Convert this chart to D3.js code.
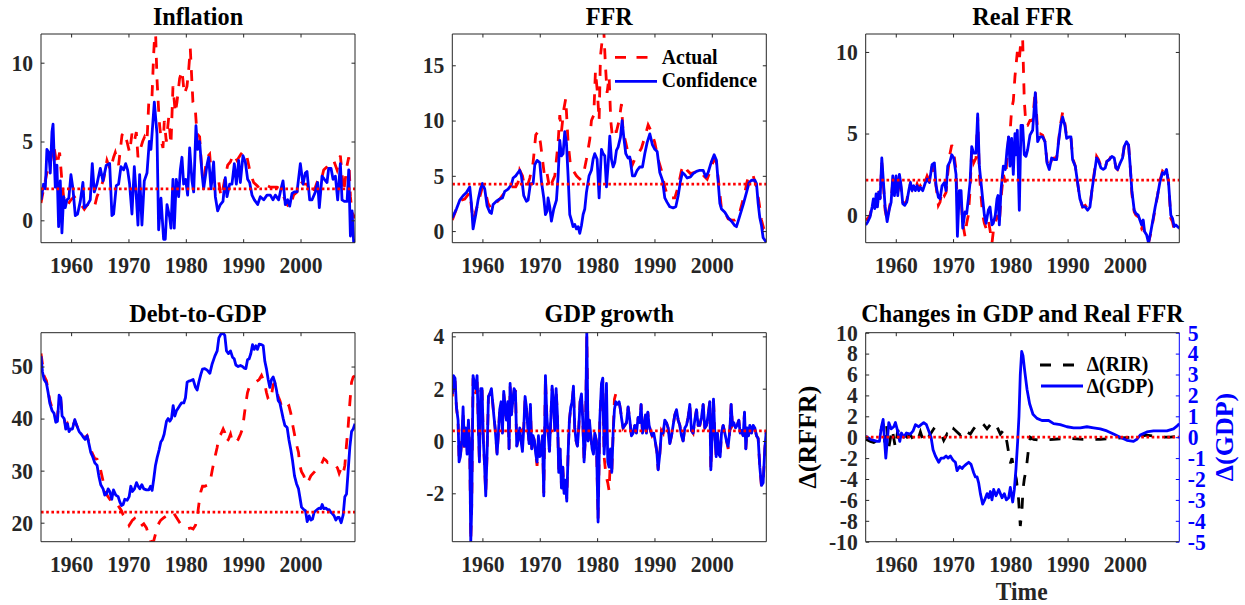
<!DOCTYPE html>
<html>
<head>
<meta charset="utf-8">
<script src="https://cdn.jsdelivr.net/npm/d3@7"></script>
<style>
  body { margin: 0; background: #fff; }
  svg { display: block; }
  text { font-family: "Liberation Serif", "Times New Roman", serif; font-weight: bold; }
</style>
</head>
<body>
<svg id="chart" width="1245" height="605"></svg>
<script>
// ---------------- data: [year, value] ----------------
const yearTicks = [1960, 1970, 1980, 1990, 2000];

const inflationConf = [[1954.75,1.3],[1955.2,2.3],[1955.5,2.0],[1955.78,4.5],[1956.1,4.3],[1956.37,3.0],[1956.66,5.6],[1956.85,6.1],[1957.0,4.5],[1957.24,2.1],[1957.53,3.5],[1957.82,-0.4],[1958.11,2.5],[1958.4,-0.8],[1958.69,1.5],[1958.98,0.8],[1959.27,1.3],[1959.6,1.4],[1959.97,2.9],[1960.32,2.0],[1960.73,0.3],[1961.13,0.4],[1961.6,1.2],[1962.06,2.4],[1962.3,0.8],[1962.88,1.0],[1963.34,1.3],[1963.69,3.6],[1964.04,1.8],[1964.51,2.3],[1965.09,3.3],[1965.55,2.5],[1966.13,3.5],[1966.72,3.6],[1967.12,0.3],[1967.41,0.4],[1967.88,2.2],[1968.28,2.3],[1968.69,3.4],[1969.16,3.2],[1969.51,3.6],[1969.85,3.2],[1970.2,2.3],[1970.61,0.4],[1971.02,3.4],[1971.37,1.5],[1971.66,-0.3],[1971.95,2.9],[1972.35,-0.3],[1972.76,2.5],[1973.23,3.0],[1973.63,5.0],[1973.92,4.5],[1974.51,7.5],[1974.97,5.5],[1975.26,-0.6],[1975.67,1.4],[1976.13,-1.2],[1976.42,-1.2],[1976.72,1.0],[1977.18,0.2],[1977.41,-0.5],[1977.76,2.6],[1977.99,-0.5],[1978.34,2.6],[1978.75,1.5],[1979.04,3.2],[1979.33,4.0],[1979.62,2.3],[1979.97,2.6],[1980.32,1.6],[1980.67,4.6],[1981.08,2.5],[1981.37,1.8],[1981.77,6.0],[1982.06,4.5],[1982.41,5.0],[1982.82,3.0],[1983.11,2.0],[1983.69,3.5],[1983.98,4.0],[1984.39,2.0],[1984.85,3.7],[1985.15,1.5],[1985.55,0.6],[1986.02,1.0],[1986.48,1.2],[1986.89,2.7],[1987.18,1.5],[1987.65,2.3],[1988.05,2.3],[1988.46,3.6],[1988.81,2.3],[1989.22,3.8],[1989.51,2.4],[1989.97,4.1],[1990.38,3.7],[1990.78,2.6],[1991.13,2.4],[1991.54,1.6],[1991.95,1.3],[1992.53,1.0],[1992.99,1.5],[1993.58,1.3],[1994.16,1.6],[1994.74,1.6],[1995.2,1.3],[1995.61,1.6],[1996.19,1.3],[1996.6,2.0],[1996.95,2.5],[1997.35,1.0],[1997.76,1.3],[1998.11,0.9],[1998.52,1.7],[1998.92,1.8],[1999.39,1.8],[1999.97,3.6],[2000.44,2.3],[2000.84,3.0],[2001.13,3.1],[2001.6,1.3],[2002.01,1.3],[2002.59,1.8],[2002.99,2.4],[2003.28,0.8],[2003.75,2.8],[2004.16,2.6],[2004.62,2.4],[2004.91,3.3],[2005.32,3.3],[2005.67,2.6],[2006.08,2.8],[2006.48,1.3],[2006.95,3.6],[2007.24,1.3],[2007.65,1.2],[2008.12,1.2],[2008.41,3.2],[2008.7,-1.0],[2008.99,0.6],[2009.28,-1.5],[2009.5,-1.2]];

const inflationActual = [[1954.75,1.1],[1955.2,2.0],[1955.78,3.0],[1956.37,3.6],[1956.95,4.8],[1957.53,3.5],[1958.0,4.3],[1958.4,2.5],[1958.69,1.5],[1959.27,0.9],[1959.97,1.3],[1960.55,1.5],[1961.13,1.2],[1961.72,1.0],[1962.3,0.7],[1962.88,1.0],[1963.63,1.0],[1964.04,0.8],[1964.51,1.5],[1965.09,2.0],[1965.67,2.6],[1966.25,3.8],[1966.83,3.2],[1967.41,4.0],[1967.7,4.3],[1968.28,3.5],[1968.87,5.4],[1969.27,5.6],[1969.74,5.0],[1970.2,4.3],[1970.61,5.5],[1971.02,5.0],[1971.37,5.6],[1971.66,4.0],[1972.06,4.5],[1972.47,5.0],[1972.82,5.3],[1973.23,5.0],[1973.58,7.8],[1974.1,7.8],[1974.39,10.5],[1974.68,12.5],[1974.97,9.0],[1975.26,7.0],[1975.44,6.0],[1975.73,5.0],[1976.02,4.6],[1976.25,6.3],[1976.6,5.0],[1977.01,6.5],[1977.41,4.8],[1977.76,8.5],[1978.17,6.8],[1978.46,7.5],[1978.92,9.0],[1979.33,9.5],[1979.74,8.0],[1980.2,8.5],[1980.49,9.5],[1980.78,10.9],[1981.24,7.5],[1981.66,7.0],[1981.95,5.5],[1982.41,5.3],[1982.82,3.0],[1983.22,2.8],[1983.69,4.0],[1984.16,4.2],[1984.56,2.4],[1985.15,2.7],[1985.73,2.5],[1986.13,1.5],[1986.48,2.0],[1986.89,2.8],[1987.3,3.5],[1987.76,3.7],[1988.34,4.2],[1988.92,3.8],[1989.62,4.2],[1990.09,4.4],[1990.67,4.0],[1991.25,3.0],[1991.83,2.4],[1992.41,2.2],[1992.99,2.0],[1993.58,2.1],[1994.16,2.2],[1994.74,2.1],[1995.32,2.1],[1995.9,2.1],[1996.48,2.0],[1997.06,1.5],[1997.64,1.0],[1998.11,0.8],[1998.8,1.6],[1999.39,1.8],[1999.97,2.5],[2000.55,2.3],[2001.13,2.3],[2001.71,1.7],[2002.3,1.8],[2002.88,2.4],[2003.46,2.3],[2004.04,3.2],[2004.62,3.4],[2005.2,3.7],[2005.78,3.8],[2006.37,3.2],[2006.95,4.1],[2007.53,1.8],[2008.12,3.5],[2008.41,4.0],[2008.7,1.5],[2008.99,0.5],[2009.4,0.2],[2009.5,0.2]];

const ffrConf = [[1954.75,1.2],[1955.47,2.0],[1956.05,2.8],[1956.63,3.2],[1957.21,3.5],[1957.79,4.0],[1958.08,2.5],[1958.37,0.2],[1958.84,1.5],[1959.24,2.8],[1959.65,3.8],[1960.0,4.3],[1960.41,3.8],[1960.81,2.3],[1961.28,1.7],[1961.57,1.6],[1961.86,2.4],[1962.44,2.7],[1963.02,2.9],[1963.49,3.0],[1963.9,3.6],[1964.48,3.8],[1965.06,4.2],[1965.35,4.8],[1965.81,5.0],[1966.22,5.3],[1966.51,5.5],[1966.8,5.0],[1967.21,3.2],[1967.67,2.7],[1967.97,2.8],[1968.37,4.3],[1968.84,4.3],[1969.13,6.0],[1969.53,6.4],[1970.0,6.2],[1970.29,4.5],[1970.7,3.0],[1970.99,1.5],[1971.28,1.8],[1971.45,3.0],[1971.74,2.2],[1972.03,0.9],[1972.44,2.0],[1972.91,2.8],[1973.2,5.0],[1973.49,8.2],[1973.78,6.8],[1974.07,7.0],[1974.36,9.0],[1974.65,8.0],[1974.94,5.0],[1975.23,1.5],[1975.52,1.0],[1975.81,0.4],[1976.1,0.6],[1976.4,0.2],[1976.69,0.4],[1976.98,-0.2],[1977.27,0.5],[1977.56,1.5],[1977.85,2.0],[1978.14,3.5],[1978.6,5.0],[1979.01,5.5],[1979.3,6.5],[1979.59,7.0],[1980.0,6.5],[1980.35,3.0],[1980.76,7.4],[1981.05,7.0],[1981.34,6.8],[1981.63,4.0],[1981.92,6.0],[1982.21,8.6],[1982.5,6.5],[1982.79,5.8],[1983.08,6.2],[1983.37,7.3],[1983.66,7.6],[1984.07,8.5],[1984.36,10.0],[1984.65,8.5],[1985.0,7.0],[1985.41,6.6],[1985.7,6.7],[1986.16,5.0],[1986.57,5.0],[1986.98,5.5],[1987.44,5.8],[1987.91,5.8],[1988.31,7.0],[1988.72,8.0],[1989.19,8.8],[1989.65,7.8],[1990.06,7.4],[1990.47,7.2],[1990.93,5.3],[1991.4,4.6],[1991.8,3.0],[1992.21,2.6],[1992.67,2.2],[1993.26,2.1],[1993.72,2.2],[1994.13,3.2],[1994.53,4.5],[1994.88,5.3],[1995.29,5.1],[1995.7,4.8],[1996.28,4.9],[1996.74,5.2],[1997.33,5.4],[1997.91,5.5],[1998.49,5.5],[1998.95,4.9],[1999.36,5.3],[1999.94,6.3],[2000.41,6.9],[2000.81,6.4],[2001.1,4.5],[2001.4,2.5],[2001.69,2.0],[2002.27,1.7],[2002.85,1.2],[2003.43,0.9],[2004.01,0.5],[2004.3,0.4],[2004.77,1.2],[2005.47,2.4],[2006.05,3.5],[2006.51,4.4],[2006.92,4.6],[2007.5,4.6],[2007.79,4.3],[2008.08,2.5],[2008.37,1.2],[2008.66,0.5],[2008.95,-0.6],[2009.5,-1.0]];

const ffrActual = [[1954.75,1.0],[1955.47,2.0],[1956.34,2.8],[1956.92,2.9],[1957.5,3.3],[1957.79,3.5],[1958.37,1.0],[1958.84,1.8],[1959.24,2.5],[1960.0,4.0],[1960.41,3.8],[1960.99,2.5],[1961.57,2.0],[1962.15,2.4],[1963.02,2.9],[1963.6,3.3],[1964.48,3.8],[1965.06,4.0],[1965.81,4.0],[1966.22,4.4],[1966.51,5.5],[1966.98,5.0],[1967.38,4.0],[1967.79,4.0],[1968.26,4.8],[1968.84,6.2],[1969.3,8.7],[1969.71,9.0],[1970.12,8.0],[1970.47,6.5],[1970.87,4.8],[1971.28,5.2],[1971.74,3.8],[1972.21,4.5],[1972.62,5.0],[1973.2,8.0],[1973.49,10.5],[1973.78,9.0],[1974.19,11.0],[1974.53,12.0],[1974.94,8.0],[1975.35,6.0],[1975.81,5.5],[1976.4,5.0],[1976.98,4.7],[1977.56,5.0],[1978.14,6.5],[1978.72,8.3],[1979.01,10.0],[1979.42,10.5],[1979.71,14.5],[1980.06,12.5],[1980.35,10.0],[1980.58,15.8],[1980.93,17.5],[1981.16,18.2],[1981.45,15.0],[1981.74,12.5],[1982.09,14.0],[1982.38,10.0],[1982.67,8.5],[1982.91,9.0],[1983.37,9.0],[1983.84,10.0],[1984.24,11.5],[1984.53,9.0],[1985.0,8.0],[1985.41,7.0],[1985.81,6.5],[1986.16,6.0],[1986.57,6.5],[1987.15,7.0],[1987.73,7.5],[1988.31,8.5],[1988.9,9.6],[1989.48,9.0],[1990.06,8.0],[1990.64,6.5],[1991.22,5.5],[1991.8,4.0],[1992.38,3.0],[1992.97,3.0],[1993.55,3.0],[1994.13,4.0],[1994.71,5.5],[1995.12,6.0],[1995.7,5.5],[1996.28,5.2],[1996.86,5.3],[1997.44,5.4],[1998.02,5.5],[1998.6,5.0],[1999.19,4.7],[1999.77,5.5],[2000.35,6.5],[2000.81,6.2],[2001.28,4.0],[2001.69,2.0],[2002.27,1.7],[2002.85,1.1],[2003.43,1.0],[2004.01,1.0],[2004.59,1.2],[2005.17,2.3],[2005.76,3.5],[2006.16,4.5],[2006.63,5.2],[2007.21,5.0],[2007.79,4.0],[2008.26,2.5],[2008.66,1.0],[2009.07,0.2],[2009.5,0.2]];

const realFfrConf = [[1954.75,-0.6],[1955.12,-0.4],[1955.52,-0.1],[1955.87,0.5],[1956.1,1.0],[1956.34,0.4],[1956.57,1.3],[1956.8,0.5],[1957.03,1.4],[1957.27,1.0],[1957.56,3.5],[1957.85,2.0],[1958.14,0.5],[1958.49,-0.4],[1958.9,0.4],[1959.19,0.8],[1959.48,2.4],[1959.77,1.2],[1960.06,2.4],[1960.35,1.2],[1960.64,2.5],[1960.93,1.8],[1961.22,0.7],[1961.57,0.6],[1961.92,0.8],[1962.27,1.5],[1962.56,2.0],[1962.85,1.5],[1963.14,1.8],[1963.43,1.5],[1963.72,1.8],[1964.01,1.5],[1964.3,1.7],[1964.71,1.5],[1965.17,2.0],[1965.47,2.2],[1965.87,2.0],[1966.34,3.1],[1966.74,3.2],[1967.03,1.8],[1967.44,1.1],[1967.73,1.0],[1968.08,1.8],[1968.49,2.0],[1968.78,1.5],[1969.07,3.0],[1969.48,3.3],[1969.77,3.7],[1970.12,3.5],[1970.52,2.5],[1970.76,-1.3],[1971.1,1.5],[1971.4,1.5],[1971.69,-0.8],[1972.09,0.2],[1972.38,0.1],[1972.67,1.0],[1972.97,2.0],[1973.26,4.2],[1973.6,3.8],[1974.01,3.8],[1974.3,6.2],[1974.59,3.0],[1974.88,2.0],[1975.17,1.0],[1975.47,0.0],[1975.76,-0.5],[1976.16,0.3],[1976.45,0.5],[1976.8,-0.6],[1977.03,-0.5],[1977.38,0.0],[1977.67,1.0],[1977.85,1.2],[1978.08,-0.6],[1978.37,1.5],[1978.78,3.0],[1979.13,2.8],[1979.42,4.0],[1979.71,4.8],[1979.94,3.0],[1980.23,4.7],[1980.52,2.5],[1980.81,5.0],[1980.99,3.7],[1981.22,5.2],[1981.57,0.3],[1981.86,5.5],[1982.15,5.5],[1982.44,3.7],[1982.73,3.6],[1983.02,4.0],[1983.43,4.9],[1983.9,5.2],[1984.36,7.5],[1984.77,4.5],[1985.17,4.8],[1985.64,4.8],[1986.05,4.5],[1986.4,3.2],[1986.8,2.8],[1987.21,3.5],[1987.67,3.4],[1988.08,3.4],[1988.43,4.5],[1988.78,5.5],[1989.13,6.0],[1989.53,5.5],[1989.83,4.7],[1990.29,4.8],[1990.58,4.8],[1990.87,3.4],[1991.34,3.0],[1991.74,2.0],[1992.15,1.0],[1992.62,0.5],[1993.08,0.5],[1993.49,0.3],[1993.9,0.5],[1994.24,1.5],[1994.65,2.5],[1995.06,3.5],[1995.41,3.3],[1995.81,2.9],[1996.22,2.8],[1996.57,2.9],[1996.86,3.3],[1997.27,3.4],[1997.73,3.6],[1998.14,3.5],[1998.43,2.9],[1998.72,2.8],[1999.19,3.2],[1999.59,3.5],[1999.88,4.2],[2000.29,4.5],[2000.64,4.3],[2000.93,3.0],[2001.22,1.5],[2001.63,0.3],[2001.92,0.1],[2002.33,0.0],[2002.62,-0.3],[2002.91,-0.6],[2003.2,-0.3],[2003.43,-1.0],[2003.78,-1.2],[2004.13,-1.7],[2004.53,-1.0],[2004.94,-0.2],[2005.29,0.5],[2005.7,1.2],[2006.1,2.0],[2006.57,2.6],[2006.86,2.5],[2007.27,2.8],[2007.62,2.0],[2008.02,0.0],[2008.31,-0.2],[2008.6,-0.7],[2008.9,-0.6],[2009.5,-0.8]];

const realFfrActual = [[1954.75,-0.3],[1955.12,-0.2],[1955.52,0.0],[1955.87,0.6],[1956.1,0.9],[1956.34,0.5],[1956.57,1.2],[1956.8,0.6],[1957.03,1.5],[1957.27,1.0],[1957.56,3.2],[1957.85,1.8],[1958.14,0.3],[1958.49,-0.3],[1958.9,0.5],[1959.19,1.0],[1959.48,2.0],[1959.77,1.4],[1960.06,2.2],[1960.35,1.4],[1960.64,2.3],[1960.93,1.6],[1961.22,0.8],[1961.57,0.7],[1961.92,0.9],[1962.27,1.6],[1962.56,1.9],[1962.85,1.6],[1963.14,1.9],[1963.43,1.6],[1963.72,1.9],[1964.01,1.6],[1964.3,1.8],[1964.71,1.6],[1965.17,2.1],[1965.47,2.4],[1965.87,2.1],[1966.34,3.0],[1966.74,2.5],[1967.03,1.8],[1967.44,0.6],[1967.73,0.8],[1968.08,1.5],[1968.49,1.2],[1968.78,1.4],[1969.07,2.5],[1969.48,3.8],[1969.77,4.3],[1970.12,3.8],[1970.52,2.8],[1970.76,0.5],[1971.1,0.8],[1971.4,1.0],[1971.69,-0.5],[1972.09,-1.3],[1972.38,-0.5],[1972.67,0.0],[1972.97,1.5],[1973.26,4.0],[1973.6,3.2],[1974.01,3.5],[1974.3,6.0],[1974.59,2.5],[1974.88,1.2],[1975.17,0.0],[1975.47,-0.5],[1975.76,-0.8],[1976.16,-0.3],[1976.45,-0.9],[1976.8,-1.7],[1977.03,-1.0],[1977.38,-0.5],[1977.67,0.0],[1978.08,-0.5],[1978.37,1.0],[1978.78,2.5],[1979.13,2.0],[1979.42,3.5],[1979.71,4.8],[1979.94,5.0],[1980.23,6.5],[1980.52,7.0],[1980.81,8.5],[1981.22,10.0],[1981.57,9.5],[1981.86,10.8],[1982.15,10.8],[1982.44,7.0],[1982.73,5.5],[1983.02,5.5],[1983.43,5.8],[1983.9,5.8],[1984.36,7.7],[1984.77,5.0],[1985.17,5.0],[1985.64,4.9],[1986.05,4.5],[1986.4,3.3],[1986.8,2.9],[1987.21,3.4],[1987.67,3.5],[1988.08,3.5],[1988.43,4.6],[1988.78,5.6],[1989.13,6.3],[1989.53,5.6],[1989.83,4.8],[1990.29,4.9],[1990.58,4.8],[1990.87,3.5],[1991.34,3.0],[1991.74,2.0],[1992.15,1.0],[1992.62,0.5],[1993.08,0.6],[1993.49,0.4],[1993.9,0.5],[1994.24,1.5],[1994.65,2.6],[1995.06,3.6],[1995.41,3.4],[1995.81,3.0],[1996.22,2.8],[1996.57,2.9],[1996.86,3.3],[1997.27,3.4],[1997.73,3.7],[1998.14,3.5],[1998.43,2.9],[1998.72,2.8],[1999.19,3.2],[1999.59,3.5],[1999.88,4.2],[2000.29,4.6],[2000.64,4.3],[2000.93,3.0],[2001.22,1.3],[2001.63,0.2],[2001.92,0.0],[2002.33,-0.1],[2002.62,-0.5],[2002.91,-0.8],[2003.2,-0.6],[2003.43,-1.2],[2003.78,-1.4],[2004.13,-1.7],[2004.53,-1.1],[2004.94,-0.3],[2005.29,0.4],[2005.7,1.2],[2006.1,2.1],[2006.57,2.7],[2006.86,2.6],[2007.27,2.8],[2007.62,2.0],[2008.02,-0.2],[2008.31,-0.4],[2008.6,-0.9],[2008.9,-1.1],[2009.5,-0.9]];

const debtConf = [[1954.75,52],[1955.0,49],[1955.29,47.5],[1955.7,46.8],[1955.99,45],[1956.28,43],[1956.69,41.5],[1957.03,41],[1957.33,39.3],[1957.62,39.5],[1957.91,44.5],[1958.2,44],[1958.43,40.5],[1958.78,40],[1959.07,38],[1959.36,39],[1959.65,37.5],[1959.94,38],[1960.23,38],[1960.64,39.8],[1961.05,38.5],[1961.4,37.5],[1961.8,37],[1962.09,36.5],[1962.44,36],[1962.79,36.7],[1963.14,35],[1963.43,33.5],[1963.72,32.8],[1964.13,31.5],[1964.53,31],[1964.83,29],[1965.17,27.3],[1965.58,26.5],[1965.87,25.3],[1966.16,25.5],[1966.45,26.5],[1966.74,26],[1967.09,24.5],[1967.38,26.3],[1967.79,25.3],[1968.2,25],[1968.49,24],[1968.78,23.3],[1969.07,23.5],[1969.36,24.5],[1969.77,24.3],[1970.12,25],[1970.41,27],[1970.7,26],[1971.05,26.5],[1971.4,27.7],[1971.69,27],[1971.98,26.5],[1972.33,27.3],[1972.67,26.5],[1973.14,26.3],[1973.55,26.3],[1973.84,27],[1974.13,26.2],[1974.42,28.5],[1974.71,31],[1975.0,32.5],[1975.35,34],[1975.64,35.5],[1975.93,36],[1976.22,37],[1976.63,39.5],[1976.92,40],[1977.21,39.5],[1977.5,40],[1977.79,42.5],[1978.08,40.5],[1978.37,41.5],[1978.66,42],[1978.95,42.5],[1979.24,43],[1979.65,43],[1979.94,44],[1980.23,47],[1980.52,47.2],[1980.87,47.3],[1981.28,47.5],[1981.69,46],[1981.98,45.5],[1982.27,47],[1982.62,48.5],[1982.91,49.5],[1983.31,49.6],[1983.72,49.3],[1984.19,48.7],[1984.59,50.5],[1985.06,52],[1985.47,53],[1985.76,55.5],[1986.1,56.2],[1986.51,56.4],[1986.8,56],[1987.09,53],[1987.44,52.5],[1987.79,53],[1988.14,51.8],[1988.43,51.5],[1988.72,50.3],[1989.13,50],[1989.53,50.2],[1989.88,50],[1990.17,49.7],[1990.47,49.6],[1990.76,51.3],[1991.05,51.5],[1991.34,52.5],[1991.63,54.2],[1991.92,53.3],[1992.21,54],[1992.5,53.3],[1992.79,54.3],[1993.2,54.2],[1993.49,54],[1993.78,51],[1994.07,49.5],[1994.36,47.5],[1994.65,46],[1994.94,47.5],[1995.23,48],[1995.52,47],[1995.81,45.5],[1996.1,43.5],[1996.4,43],[1996.69,41.5],[1996.98,40],[1997.27,38.7],[1997.67,38.3],[1997.97,36],[1998.31,34],[1998.6,32],[1998.95,29],[1999.3,27.5],[1999.65,26.5],[1999.88,25],[2000.17,23],[2000.58,22.5],[2000.87,22.3],[2001.16,20.2],[2001.51,21.3],[2001.8,20.5],[2002.09,20.7],[2002.38,22],[2002.67,22.3],[2002.97,22.6],[2003.26,22.8],[2003.55,22.7],[2003.78,23.5],[2004.07,22.7],[2004.42,22.8],[2004.71,22.5],[2005.0,22.5],[2005.29,22],[2005.58,21.7],[2005.87,21.3],[2006.16,20.5],[2006.45,21],[2006.74,21],[2007.09,20],[2007.44,21.5],[2007.73,25],[2008.02,25.5],[2008.31,30],[2008.6,34.5],[2008.9,37.5],[2009.19,38],[2009.5,39]];

const debtActual = [[1954.75,52.5],[1955.29,48.2],[1955.7,47.3],[1956.28,43.5],[1956.69,42],[1957.03,41.3],[1957.33,40],[1957.62,40.5],[1957.91,43.5],[1958.2,43.5],[1958.43,41],[1958.78,40.3],[1959.07,38.5],[1959.36,39],[1959.65,38],[1959.94,38.3],[1960.23,38.5],[1960.64,39.5],[1961.05,38.5],[1961.4,37.8],[1961.8,37.3],[1962.09,36.8],[1962.44,36.3],[1962.79,36.7],[1963.14,35.3],[1963.43,34],[1963.72,33.3],[1964.13,32.3],[1964.53,32.2],[1964.83,31.5],[1965.17,30],[1965.58,28],[1965.87,26.5],[1966.16,25.5],[1966.45,25],[1966.74,24.5],[1967.09,24],[1967.38,24.2],[1967.79,23.8],[1968.2,23.3],[1968.49,22.8],[1968.78,22.3],[1969.07,21.5],[1969.36,21],[1969.77,20.5],[1970.12,19.5],[1970.41,20],[1970.7,20.5],[1971.05,20.8],[1971.4,20],[1971.69,19.5],[1971.98,19.2],[1972.33,19.5],[1972.67,19.8],[1973.14,19],[1973.55,17.5],[1973.84,16.5],[1974.13,16.3],[1974.42,16.6],[1974.71,17.8],[1975.0,19],[1975.35,20],[1975.64,20.5],[1976.22,21],[1976.63,21.3],[1977.21,21.5],[1977.79,22],[1978.37,21],[1978.95,20],[1979.24,19.5],[1979.65,19.1],[1980.23,18.8],[1980.87,19],[1981.28,18.8],[1981.69,19.5],[1981.98,21],[1982.27,23.5],[1982.62,26],[1982.91,27],[1983.31,27],[1983.72,27.2],[1984.19,27.5],[1984.59,30],[1985.06,32.5],[1985.47,34.5],[1985.76,36.5],[1986.1,37],[1986.51,38],[1986.8,37.3],[1987.09,35.5],[1987.44,36],[1987.79,37],[1988.14,35.5],[1988.43,35.3],[1988.72,35.5],[1989.13,36],[1989.53,37],[1989.88,38],[1990.17,40.5],[1990.47,43],[1990.76,45],[1991.05,46],[1991.34,46.3],[1991.63,46.5],[1992.21,47],[1992.79,47.5],[1993.2,48.3],[1993.49,47.5],[1993.78,46.5],[1994.07,45],[1994.36,43.8],[1994.65,43.5],[1994.94,44.5],[1995.23,46.5],[1995.52,46.8],[1995.81,45.5],[1996.1,44.3],[1996.4,43.5],[1996.69,42.3],[1996.98,41.8],[1997.27,41.8],[1997.67,42.3],[1997.97,42.5],[1998.31,41],[1998.6,39],[1998.95,37],[1999.3,35],[1999.65,33.5],[1999.88,31],[2000.17,29.8],[2000.58,29],[2000.87,28],[2001.16,27.5],[2001.51,28.3],[2001.8,29],[2002.38,29.7],[2002.97,30.5],[2003.55,31],[2004.07,32.3],[2004.42,32],[2004.71,31.6],[2005.0,31.8],[2005.58,31.5],[2006.16,31],[2006.45,30.5],[2006.74,29.5],[2007.09,30.5],[2007.44,29.5],[2007.73,31],[2008.02,35],[2008.31,38.5],[2008.6,43],[2008.9,47],[2009.19,48],[2009.5,48.2]];

const gdpConf = [[1954.75,1.8],[1954.94,2.5],[1955.23,2.4],[1955.47,1.3],[1955.76,0.8],[1955.93,-0.8],[1956.16,-0.6],[1956.4,0.0],[1956.63,1.3],[1956.86,-0.2],[1957.09,0.5],[1957.33,-0.5],[1957.56,0.8],[1957.79,-0.2],[1957.97,-3.85],[1958.14,-2.5],[1958.37,2.5],[1958.6,2.2],[1958.84,2.0],[1959.07,2.5],[1959.3,0.5],[1959.48,-0.8],[1959.71,2.0],[1959.94,2.0],[1960.17,0.0],[1960.35,-0.8],[1960.58,-2.1],[1960.81,-0.5],[1961.05,1.7],[1961.28,1.8],[1961.57,2.0],[1961.74,1.6],[1961.98,1.0],[1962.21,0.5],[1962.56,-0.5],[1962.79,0.3],[1963.02,1.2],[1963.26,1.5],[1963.49,0.3],[1963.72,1.9],[1963.95,1.3],[1964.19,0.8],[1964.42,1.5],[1964.65,-0.3],[1964.83,2.2],[1965.06,1.0],[1965.29,1.5],[1965.52,2.0],[1965.76,1.9],[1965.99,-0.2],[1966.28,0.1],[1966.51,0.5],[1966.74,0.0],[1966.98,-0.4],[1967.21,0.5],[1967.44,1.7],[1967.67,1.3],[1967.91,0.5],[1968.14,-0.1],[1968.37,1.4],[1968.6,-0.3],[1968.84,0.2],[1969.07,0.0],[1969.3,-0.5],[1969.53,-0.8],[1969.77,0.2],[1970.0,-0.6],[1970.23,-0.5],[1970.47,0.2],[1970.7,-2.1],[1970.99,2.5],[1971.22,1.0],[1971.45,0.3],[1971.69,-0.4],[1971.92,0.8],[1972.15,2.1],[1972.38,1.5],[1972.62,0.4],[1972.85,2.0],[1973.08,1.0],[1973.31,-1.2],[1973.55,-0.3],[1973.78,-1.8],[1974.01,-1.0],[1974.24,-2.0],[1974.48,-1.5],[1974.71,-2.3],[1974.94,-0.5],[1975.17,0.8],[1975.41,1.3],[1975.64,1.5],[1975.87,2.1],[1976.1,0.5],[1976.34,0.0],[1976.57,-0.2],[1976.8,0.5],[1977.03,1.5],[1977.27,1.8],[1977.5,0.8],[1977.73,-0.8],[1977.97,0.2],[1978.2,4.14],[1978.43,0.0],[1978.66,0.8],[1978.9,0.2],[1979.13,-0.3],[1979.36,-0.5],[1979.59,0.3],[1979.88,0.0],[1980.17,-3.1],[1980.47,0.8],[1980.76,2.2],[1980.99,2.4],[1981.22,-0.5],[1981.45,0.4],[1981.63,2.2],[1981.86,-0.8],[1982.09,-1.0],[1982.33,-0.3],[1982.56,-1.2],[1982.79,0.3],[1983.02,1.2],[1983.26,1.5],[1983.49,1.4],[1983.84,1.5],[1984.07,1.2],[1984.3,0.8],[1984.53,0.5],[1984.83,0.6],[1985.12,0.7],[1985.41,1.3],[1985.7,0.8],[1985.99,0.2],[1986.28,0.3],[1986.57,0.6],[1986.86,0.3],[1987.15,0.9],[1987.44,0.7],[1987.67,1.4],[1987.91,0.3],[1988.2,0.6],[1988.43,1.0],[1988.6,0.3],[1988.84,1.1],[1989.07,0.6],[1989.3,0.4],[1989.59,0.2],[1989.88,0.3],[1990.12,0.0],[1990.41,-0.4],[1990.64,-1.1],[1990.93,-0.5],[1991.22,0.4],[1991.51,0.3],[1991.8,0.8],[1992.09,0.7],[1992.38,0.5],[1992.67,-0.1],[1992.97,0.2],[1993.26,0.6],[1993.55,1.0],[1993.84,1.2],[1994.13,0.8],[1994.42,0.6],[1994.71,0.2],[1995.0,0.0],[1995.29,0.5],[1995.58,0.6],[1995.87,0.9],[1996.16,1.4],[1996.45,0.4],[1996.74,0.3],[1997.03,0.8],[1997.33,1.2],[1997.62,0.6],[1997.91,0.6],[1998.2,0.9],[1998.49,1.4],[1998.78,0.5],[1999.07,0.6],[1999.36,1.0],[1999.65,1.5],[1999.83,-1.1],[2000.06,0.2],[2000.29,1.6],[2000.52,0.3],[2000.76,-0.6],[2000.99,0.3],[2001.22,-0.5],[2001.45,-0.6],[2001.69,0.3],[2001.98,0.6],[2002.27,0.3],[2002.56,0.0],[2002.85,-0.2],[2003.14,0.4],[2003.37,1.4],[2003.6,0.6],[2003.84,0.7],[2004.13,0.5],[2004.42,0.6],[2004.71,0.8],[2004.94,0.3],[2005.17,0.4],[2005.47,0.2],[2005.7,1.1],[2005.93,-0.3],[2006.16,0.5],[2006.4,0.2],[2006.63,0.6],[2006.92,0.3],[2007.21,0.6],[2007.5,0.5],[2007.79,0.2],[2008.08,0.1],[2008.37,-1.0],[2008.66,-1.7],[2008.95,-1.6],[2009.24,-0.3],[2009.5,0.4]];

const gdpActual = [[1954.75,1.7],[1954.94,2.4],[1955.23,2.3],[1955.47,1.3],[1955.76,0.7],[1955.93,-0.7],[1956.16,-0.6],[1956.4,0.1],[1956.63,1.1],[1956.86,-0.35],[1957.09,0.5],[1957.33,-0.5],[1957.56,0.7],[1957.79,-0.2],[1957.97,-3.8],[1958.14,-2.4],[1958.37,2.4],[1958.6,2.1],[1958.84,1.8],[1959.07,2.4],[1959.3,0.5],[1959.48,-0.8],[1959.71,1.9],[1959.94,1.9],[1960.17,0.0],[1960.35,-0.8],[1960.58,-2.0],[1960.81,-0.5],[1961.05,1.7],[1961.28,1.8],[1961.57,1.9],[1961.74,1.6],[1961.98,1.0],[1962.21,0.5],[1962.56,-0.5],[1962.79,0.3],[1963.02,1.2],[1963.26,1.4],[1963.49,0.3],[1963.72,1.8],[1963.95,1.3],[1964.19,0.8],[1964.42,1.4],[1964.65,-0.3],[1964.83,2.1],[1965.06,1.0],[1965.29,1.5],[1965.52,1.9],[1965.76,1.9],[1965.99,-0.2],[1966.28,0.1],[1966.51,0.5],[1966.74,0.5],[1966.98,0.4],[1967.21,0.5],[1967.44,1.6],[1967.67,1.3],[1967.91,0.5],[1968.14,-0.1],[1968.37,1.3],[1968.6,-0.3],[1968.84,0.2],[1969.07,0.0],[1969.3,-0.5],[1969.53,-0.95],[1969.77,-0.2],[1970.0,-0.6],[1970.23,-0.5],[1970.47,0.2],[1970.7,-2.0],[1970.99,2.4],[1971.22,1.0],[1971.45,0.3],[1971.69,-0.4],[1971.92,0.8],[1972.15,2.0],[1972.38,1.5],[1972.62,0.4],[1972.85,1.9],[1973.08,1.0],[1973.31,-1.1],[1973.55,-0.3],[1973.78,-1.7],[1974.01,-1.0],[1974.24,-1.9],[1974.48,-1.5],[1974.71,-2.2],[1974.94,-0.5],[1975.17,0.8],[1975.41,1.3],[1975.64,1.5],[1975.87,2.0],[1976.1,0.5],[1976.34,0.0],[1976.57,-0.2],[1976.8,0.5],[1977.03,1.5],[1977.27,1.7],[1977.5,0.8],[1977.73,-0.8],[1977.97,0.2],[1978.2,4.0],[1978.43,0.0],[1978.66,0.8],[1978.9,0.2],[1979.13,-0.3],[1979.36,-0.5],[1979.59,0.3],[1979.88,0.0],[1980.17,-3.0],[1980.47,0.8],[1980.76,2.1],[1980.99,2.3],[1981.22,-0.6],[1981.45,-1.1],[1981.63,-1.4],[1981.86,-1.6],[1982.09,-1.9],[1982.33,-0.6],[1982.56,-1.2],[1982.79,0.3],[1983.02,1.6],[1983.26,1.8],[1983.49,1.75],[1983.84,1.5],[1984.07,1.2],[1984.3,0.8],[1984.53,0.5],[1984.83,0.6],[1985.12,0.7],[1985.41,1.3],[1985.7,0.8],[1985.99,0.2],[1986.28,0.3],[1986.57,0.6],[1986.86,0.3],[1987.15,0.9],[1987.44,0.7],[1987.67,1.4],[1987.91,0.3],[1988.2,0.6],[1988.43,1.0],[1988.6,0.3],[1988.84,1.1],[1989.07,0.6],[1989.3,0.4],[1989.59,0.2],[1989.88,0.3],[1990.12,0.0],[1990.41,-0.4],[1990.64,-1.1],[1990.93,-0.5],[1991.22,0.4],[1991.51,0.3],[1991.8,0.8],[1992.09,0.7],[1992.38,0.5],[1992.67,-0.1],[1992.97,0.2],[1993.26,0.6],[1993.55,1.0],[1993.84,1.2],[1994.13,0.8],[1994.42,0.6],[1994.71,0.2],[1995.0,0.0],[1995.29,0.5],[1995.58,0.6],[1995.87,0.9],[1996.16,1.4],[1996.45,0.4],[1996.74,0.3],[1997.03,0.8],[1997.33,1.2],[1997.62,0.6],[1997.91,0.6],[1998.2,0.9],[1998.49,1.4],[1998.78,0.5],[1999.07,0.6],[1999.36,1.0],[1999.65,1.5],[1999.83,-1.1],[2000.06,0.2],[2000.29,1.6],[2000.52,0.3],[2000.76,-0.6],[2000.99,0.3],[2001.22,-0.5],[2001.45,-0.6],[2001.69,0.3],[2001.98,0.6],[2002.27,0.3],[2002.56,0.0],[2002.85,-0.3],[2003.14,0.4],[2003.37,1.4],[2003.6,0.6],[2003.84,0.7],[2004.13,0.5],[2004.42,0.6],[2004.71,0.8],[2004.94,0.3],[2005.17,0.4],[2005.47,0.2],[2005.7,1.1],[2005.93,-0.3],[2006.16,0.5],[2006.4,0.2],[2006.63,0.6],[2006.92,0.3],[2007.21,0.6],[2007.5,0.5],[2007.79,0.2],[2008.08,0.1],[2008.37,-1.0],[2008.66,-1.75],[2008.95,-1.6],[2009.24,-0.3],[2009.5,0.4]];

// changes: RIR on the left scale, GDP on the right scale
const deltaRir = [[1954.75,-0.2],[1955.58,-0.4],[1956.16,-0.5],[1956.86,-0.3],[1957.33,0.5],[1957.79,1.3],[1958.08,-0.5],[1958.37,1.2],[1958.78,-1.0],[1959.36,0.8],[1959.94,-1.0],[1960.35,0.7],[1960.81,0.0],[1961.4,0.3],[1961.98,0.0],[1962.56,0.2],[1963.14,-0.3],[1963.72,-0.5],[1964.3,0.5],[1964.88,-0.5],[1965.47,-0.2],[1966.05,0.3],[1966.63,0.8],[1967.21,0.5],[1967.79,0.5],[1968.37,-0.3],[1968.95,0.3],[1969.53,0.0],[1970.12,0.8],[1970.7,0.5],[1971.28,0.2],[1971.86,0.8],[1972.44,0.5],[1973.02,0.3],[1973.6,0.8],[1974.19,1.2],[1974.77,1.5],[1975.35,1.2],[1975.93,0.8],[1976.51,1.2],[1977.09,0.7],[1977.67,1.0],[1978.26,0.3],[1978.84,0.7],[1979.13,0.2],[1979.42,-0.5],[1979.71,-1.5],[1980.0,-2.5],[1980.29,-2.0],[1980.58,-3.0],[1981.05,-4.0],[1981.45,-6.0],[1981.74,-8.5],[1982.03,-7.0],[1982.21,-5.0],[1982.44,-4.0],[1982.79,-3.0],[1983.2,-1.0],[1983.49,0.0],[1984.07,-0.2],[1985.23,-0.3],[1987.56,-0.2],[1989.88,-0.1],[1992.79,-0.2],[1995.7,-0.2],[1998.6,-0.1],[2001.51,0.0],[2003.84,0.2],[2006.16,0.0],[2007.91,0.0],[2009.5,0.1]];

const deltaGdp = [[1954.75,0.05],[1955.58,-0.1],[1956.16,-0.15],[1956.74,-0.2],[1957.15,-0.2],[1957.5,0.5],[1957.79,0.85],[1958.26,-1.0],[1958.78,0.7],[1959.19,0.4],[1959.65,0.5],[1959.94,0.7],[1960.23,0.4],[1960.7,-0.2],[1960.99,0.2],[1961.4,0.0],[1961.86,0.2],[1962.56,0.15],[1963.02,0.3],[1963.43,0.6],[1964.01,0.5],[1964.42,0.6],[1964.88,0.7],[1965.35,0.6],[1965.76,0.3],[1966.16,0.0],[1966.51,-0.6],[1966.92,-0.9],[1967.5,-1.2],[1967.91,-1.0],[1968.37,-1.0],[1968.78,-0.9],[1969.13,-1.0],[1969.53,-0.9],[1970.0,-1.1],[1970.41,-1.2],[1970.7,-1.6],[1971.16,-1.4],[1971.57,-1.5],[1971.86,-1.4],[1972.27,-1.3],[1972.73,-1.2],[1973.14,-1.3],[1973.6,-1.7],[1973.9,-1.9],[1974.19,-1.9],[1974.48,-2.2],[1974.77,-2.7],[1975.17,-3.2],[1975.52,-3.0],[1975.93,-2.7],[1976.22,-2.9],[1976.51,-2.6],[1976.8,-3.0],[1977.09,-2.5],[1977.5,-2.8],[1977.97,-2.5],[1978.26,-2.7],[1978.55,-2.9],[1978.95,-2.7],[1979.3,-3.0],[1979.71,-2.9],[1980.0,-2.4],[1980.41,-3.1],[1980.7,-2.5],[1980.99,-1.5],[1981.28,-0.2],[1981.51,1.0],[1981.74,3.0],[1981.98,4.1],[1982.21,3.9],[1982.5,3.2],[1982.91,2.3],[1983.37,1.6],[1983.95,1.1],[1984.65,0.9],[1985.52,0.8],[1986.69,0.8],[1987.56,0.65],[1988.72,0.6],[1989.88,0.5],[1991.05,0.45],[1992.21,0.45],[1993.37,0.5],[1994.53,0.45],[1995.7,0.4],[1996.86,0.3],[1998.02,0.15],[1999.19,0.0],[2000.35,-0.15],[2001.51,-0.2],[2002.09,-0.1],[2002.67,0.1],[2003.84,0.25],[2005.0,0.3],[2006.16,0.3],[2007.33,0.3],[2008.49,0.4],[2009.19,0.55],[2009.5,0.65]];

// sample means shown as dotted reference lines
const meanInflation = 2.0, meanFfr = 4.25, meanRealFfr = 2.15, meanDebt = 22.05, meanGdp = 0.39, meanChange = 0;

// ---------------- layout & style ----------------
const X_DOMAIN = [1954.75, 2009.5];
const TICK = 3.5;
const AXIS_COLOR = "#262626";
const RED = "#ff0000", BLUE = "#0000ff";
const LW = 2.8;
const DASH = "11,10.5", DOT = "2.6,2.6";
const FONT = "'Liberation Serif', 'Times New Roman', serif";
const TICK_FONT = 23, TITLE_FONT = 25, LEGEND_FONT = 21, LABEL_FONT = 26;
const SX = 0.94; // glyph width factor
const fmtTick = d => String(d); // plain hyphen for negatives

const cols = [[41, 355], [452.3, 766.3], [865.7, 1179.3]];
const rows = [[34, 242.7], [332.7, 541.7]];
const titleBase = [25, 322];

const svg = d3.select("#chart");
const defs = svg.append("defs");

function fontStyle(sel, size) {
  return sel.style("font-family", FONT).style("font-weight", "bold").style("font-size", size + "px");
}

function addText(parent, x, y, str, size, anchor, fill, sx) {
  return parent.append("text")
    .attr("transform", `translate(${x},${y}) scale(${sx},1)`)
    .attr("text-anchor", anchor)
    .attr("fill", fill)
    .call(fontStyle, size)
    .text(str);
}

function styleAxis(sel, color, hideText) {
  sel.attr("font-size", null).attr("font-family", null);
  sel.select(".domain").remove();
  sel.selectAll(".tick line").attr("stroke", color).attr("stroke-width", 1);
  const t = sel.selectAll(".tick text");
  if (hideText) { t.remove(); return; }
  t.attr("fill", color).attr("transform", `scale(${SX},1)`).call(fontStyle, TICK_FONT);
}

function frame(g, x, y, box, opts) {
  const [left, right] = box.x, [top, bottom] = box.y;
  const leftColor = opts.leftColor || AXIS_COLOR;
  const rightColor = opts.rightColor || AXIS_COLOR;
  // x axes
  g.append("g").attr("transform", `translate(0,${bottom})`)
    .call(d3.axisBottom(x).tickValues(yearTicks).tickFormat(fmtTick)
      .tickSizeInner(-TICK).tickSizeOuter(0).tickPadding(13.5))
    .call(styleAxis, AXIS_COLOR, false);
  g.append("g").attr("transform", `translate(0,${top})`)
    .call(d3.axisTop(x).tickValues(yearTicks).tickSizeInner(-TICK).tickSizeOuter(0))
    .call(styleAxis, AXIS_COLOR, true);
  // y axes
  g.append("g").attr("transform", `translate(${left},0)`)
    .call(d3.axisLeft(y).tickValues(opts.yTicks).tickFormat(fmtTick)
      .tickSizeInner(-TICK).tickSizeOuter(0).tickPadding(8.5))
    .call(styleAxis, leftColor, false);
  const yr = opts.yRight || y;
  g.append("g").attr("transform", `translate(${right},0)`)
    .call(d3.axisRight(yr).tickValues(opts.yRightTicks || opts.yTicks).tickFormat(fmtTick)
      .tickSizeInner(-TICK).tickSizeOuter(0).tickPadding(9))
    .call(styleAxis, rightColor, !opts.yRight);
  // box
  const edge = (x1, y1, x2, y2, c) => g.append("line").attr("x1", x1).attr("y1", y1)
    .attr("x2", x2).attr("y2", y2).attr("stroke", c).attr("stroke-width", 1);
  edge(left, top, right, top, AXIS_COLOR);
  edge(left, bottom, right, bottom, AXIS_COLOR);
  edge(left, top, left, bottom, leftColor);
  edge(right, top, right, bottom, rightColor);
}

function clipFor(key, box) {
  defs.append("clipPath").attr("id", "clip-" + key).append("rect")
    .attr("x", box.x[0]).attr("y", box.y[0])
    .attr("width", box.x[1] - box.x[0]).attr("height", box.y[1] - box.y[0]);
  return `url(#clip-${key})`;
}

function drawPanel(p) {
  const box = { x: cols[p.col], y: rows[p.row] };
  const x = d3.scaleLinear().domain(X_DOMAIN).range(box.x);
  const y = d3.scaleLinear().domain(p.yDomain).range([box.y[1], box.y[0]]);
  const g = svg.append("g");
  const plot = g.append("g").attr("clip-path", clipFor(p.key, box));
  const line = d3.line().x(d => x(d[0])).y(d => y(d[1]));

  plot.append("path").datum(p.actual).attr("d", line)
    .attr("fill", "none").attr("stroke", RED).attr("stroke-width", LW)
    .attr("stroke-dasharray", DASH);
  plot.append("path").datum(p.conf).attr("d", line)
    .attr("fill", "none").attr("stroke", BLUE).attr("stroke-width", LW)
    .attr("stroke-linejoin", "round");
  plot.append("path").datum([[X_DOMAIN[0], p.mean], [X_DOMAIN[1], p.mean]]).attr("d", line)
    .attr("fill", "none").attr("stroke", RED).attr("stroke-width", LW)
    .attr("stroke-dasharray", DOT);

  frame(g, x, y, box, { yTicks: p.yTicks });
  addText(g, (box.x[0] + box.x[1]) / 2, titleBase[p.row], p.title, TITLE_FONT, "middle", "#000", 0.97);
  return { g, x, y };
}

drawPanel({ key: "infl", title: "Inflation", row: 0, col: 0, yDomain: [-1.42, 11.82], yTicks: [0, 5, 10],
  actual: inflationActual, conf: inflationConf, mean: meanInflation });

const ffr = drawPanel({ key: "ffr", title: "FFR", row: 0, col: 1, yDomain: [-1.05, 17.83], yTicks: [0, 5, 10, 15],
  actual: ffrActual, conf: ffrConf, mean: meanFfr });

drawPanel({ key: "rffr", title: "Real FFR", row: 0, col: 2, yDomain: [-1.69, 11.1], yTicks: [0, 5, 10],
  actual: realFfrActual, conf: realFfrConf, mean: meanRealFfr });

drawPanel({ key: "debt", title: "Debt-to-GDP", row: 1, col: 0, yDomain: [16.35, 56.5], yTicks: [20, 30, 40, 50],
  actual: debtActual, conf: debtConf, mean: meanDebt });

drawPanel({ key: "gdp", title: "GDP growth", row: 1, col: 1, yDomain: [-3.85, 4.14], yTicks: [-2, 0, 2, 4],
  actual: gdpActual, conf: gdpConf, mean: meanGdp });

// legend for the FFR panel
(function () {
  const lg = ffr.g.append("g");
  lg.append("line").attr("x1", 615).attr("x2", 657).attr("y1", 57.3).attr("y2", 57.3)
    .attr("stroke", RED).attr("stroke-width", LW).attr("stroke-dasharray", DASH);
  lg.append("line").attr("x1", 615).attr("x2", 657).attr("y1", 81.3).attr("y2", 81.3)
    .attr("stroke", BLUE).attr("stroke-width", LW);
  addText(lg, 661.7, 63.5, "Actual", LEGEND_FONT, "start", "#000", SX);
  addText(lg, 661.7, 87, "Confidence", LEGEND_FONT, "start", "#000", SX);
})();

// ---------------- changes panel (two y scales) ----------------
(function () {
  const box = { x: cols[2], y: rows[1] };
  const x = d3.scaleLinear().domain(X_DOMAIN).range(box.x);
  const yL = d3.scaleLinear().domain([-10, 10]).range([box.y[1], box.y[0]]);
  const yR = d3.scaleLinear().domain([-5, 5]).range([box.y[1], box.y[0]]);
  const g = svg.append("g");
  const plot = g.append("g").attr("clip-path", clipFor("chg", box));

  plot.append("path").datum(deltaRir)
    .attr("d", d3.line().x(d => x(d[0])).y(d => yL(d[1])))
    .attr("fill", "none").attr("stroke", "#000").attr("stroke-width", LW)
    .attr("stroke-dasharray", "11,12");
  plot.append("path").datum(deltaGdp)
    .attr("d", d3.line().x(d => x(d[0])).y(d => yR(d[1])))
    .attr("fill", "none").attr("stroke", BLUE).attr("stroke-width", LW)
    .attr("stroke-linejoin", "round");
  plot.append("line").attr("x1", box.x[0]).attr("x2", box.x[1])
    .attr("y1", yL(meanChange)).attr("y2", yL(meanChange))
    .attr("stroke", RED).attr("stroke-width", LW).attr("stroke-dasharray", DOT);

  frame(g, x, yL, box, {
    yTicks: d3.range(-10, 11, 2), yRight: yR, yRightTicks: d3.range(-5, 6, 1), rightColor: BLUE
  });

  addText(g, (box.x[0] + box.x[1]) / 2, titleBase[1], "Changes in GDP and Real FFR", TITLE_FONT, "middle", "#000", 0.97);
  addText(g, 1021.7, 600, "Time", TITLE_FONT, "middle", AXIS_COLOR, SX);

  g.append("text").attr("transform", "translate(816,437) rotate(-90)")
    .attr("text-anchor", "middle").attr("fill", "#000").call(fontStyle, LABEL_FONT)
    .text("Δ(RFFR)");
  g.append("text").attr("transform", "translate(1233,437) rotate(-90)")
    .attr("text-anchor", "middle").attr("fill", BLUE).call(fontStyle, LABEL_FONT)
    .text("Δ(GDP)");

  // legend
  g.append("line").attr("x1", 1040).attr("x2", 1083).attr("y1", 365).attr("y2", 365)
    .attr("stroke", "#000").attr("stroke-width", LW).attr("stroke-dasharray", "11,12");
  g.append("line").attr("x1", 1041).attr("x2", 1083).attr("y1", 386).attr("y2", 386)
    .attr("stroke", BLUE).attr("stroke-width", LW);
  addText(g, 1086.7, 371, "Δ(RIR)", LEGEND_FONT, "start", "#000", SX);
  addText(g, 1086.7, 392.5, "Δ(GDP)", LEGEND_FONT, "start", "#000", SX);
})();
</script>
</body>
</html>
